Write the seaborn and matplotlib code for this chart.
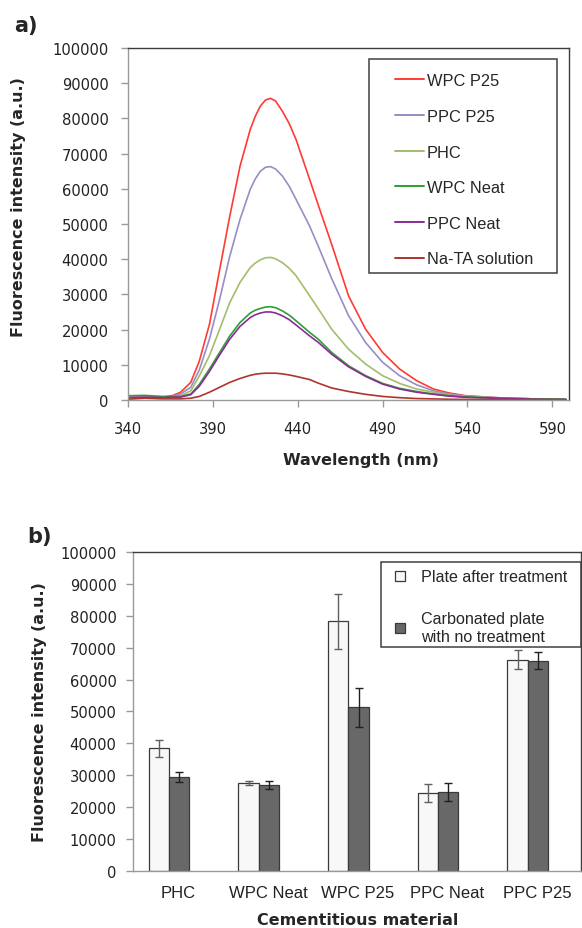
import numpy as np
import pandas as pd
import matplotlib
matplotlib.use("Agg")
import matplotlib.pyplot as plt
import seaborn as sns
from matplotlib.lines import Line2D
from matplotlib.patches import Patch, Rectangle
from matplotlib.transforms import ScaledTranslation

# ---- panel a) emission spectra (read off the figure) ----
wavelength = [340, 350, 360, 366, 371, 377, 382, 388, 394, 400, 406, 412, 415, 418, 421, 424, 427, 431,
              435, 439, 447, 452, 460, 470, 480, 490, 500, 510, 520, 529, 539, 559, 579, 598]
wpc_p25 = [600, 700, 800, 1200, 2200, 5000, 11000, 21500, 37000, 52300, 66400, 76800, 80600, 83500, 85200,
           85700, 84900, 82000, 78500, 74000, 62700, 55500, 44200, 29500, 20100, 13500, 8800, 5500, 3100,
           2000, 1200, 600, 300, 100]
ppc_p25 = [600, 700, 800, 1000, 1700, 3600, 8500, 17300, 28600, 40900, 51300, 59800, 62800, 65000, 66100,
           66300, 65600, 63600, 60700, 57000, 49400, 43800, 34500, 23900, 16300, 10700, 6900, 4300, 2600,
           1700, 1100, 600, 300, 200]
phc = [600, 700, 800, 900, 1200, 2600, 6800, 12600, 20100, 27700, 33400, 37600, 38900, 39800, 40400,
       40500, 40100, 39000, 37400, 35300, 29600, 26000, 20100, 14400, 10200, 6900, 4700, 3100, 2200,
       1400, 1000, 500, 300, 100]
wpc_neat = [1200, 1300, 1000, 1000, 1000, 1700, 4400, 8800, 13500, 18200, 22000, 24700, 25500, 26000, 26400,
            26500, 26200, 25300, 24100, 22500, 19200, 17300, 13500, 9700, 6900, 4700, 3300, 2400, 1700,
            1200, 850, 500, 300, 200]
ppc_neat = [700, 800, 700, 800, 800, 1500, 3900, 8100, 12800, 17300, 20900, 23400, 24200, 24700, 25000,
            25000, 24700, 23900, 22800, 21300, 18200, 16400, 13000, 9400, 6700, 4500, 3100, 2200, 1600,
            1100, 750, 450, 200, 100]
na_ta = [200, 500, 300, 300, 300, 500, 1000, 2200, 3600, 5000, 6100, 7000, 7300, 7500, 7600,
         7600, 7600, 7400, 7100, 6700, 5800, 4800, 3400, 2400, 1600, 1000, 650, 400, 300,
         200, 150, 100, 100, 50]

series_names = ["WPC P25", "PPC P25", "PHC", "WPC Neat", "PPC Neat", "Na-TA solution"]
series_values = [wpc_p25, ppc_p25, phc, wpc_neat, ppc_neat, na_ta]
series_colors = ["#fe3b33", "#9a8cc4", "#a2bd6c", "#2f9e32", "#8a2c98", "#b0342e"]

# ---- panel b) bar chart ----
materials = ["PHC", "WPC Neat", "WPC P25", "PPC Neat", "PPC P25"]
conditions = ["Plate after treatment", "Carbonated plate\nwith no treatment"]
after_treatment = [38400, 27600, 78300, 24400, 66300]
after_err = [2700, 650, 8750, 2950, 2950]
carbonated = [29400, 26900, 51300, 24700, 66000]
carbonated_err = [1700, 1150, 6150, 2700, 2700]

sns.set_style("white")
plt.rcParams["font.family"] = ["DejaVu Sans"]

fig = plt.figure(figsize=(5.82, 9.29), dpi=100)
ax1 = fig.add_axes([0.2199, 0.5684, 0.7583, 0.3789])
ax2 = fig.add_axes([0.229, 0.0617, 0.7701, 0.3427])

# --- top panel ---
spec = pd.concat([pd.DataFrame({"Wavelength": wavelength, "Intensity": v, "Sample": n})
                  for n, v in zip(series_names, series_values)], ignore_index=True)
sns.lineplot(data=spec, x="Wavelength", y="Intensity", hue="Sample", hue_order=series_names,
             palette=series_colors, estimator=None, sort=False, linewidth=1.2, legend=False, ax=ax1)

ax1.set_xlim(340, 600)
ax1.set_ylim(0, 100000)
ax1.set_xticks(np.arange(340, 600, 50))
ax1.set_yticks(np.arange(0, 100001, 10000))
ax1.set_xlabel("Wavelength (nm)", fontsize=11.5, fontweight="bold", va="center")
ax1.set_ylabel("Fluorescence intensity (a.u.)", fontsize=11.5, fontweight="bold", va="center")
ax1.xaxis.set_label_coords(0.527, -0.168)
ax1.yaxis.set_label_coords(-0.247, 0.55)

# --- bottom panel ---
bars = pd.DataFrame({
    "Material": materials * 2,
    "Condition": [conditions[0]] * 5 + [conditions[1]] * 5,
    "Value": after_treatment + carbonated,
})
sns.barplot(data=bars, x="Material", y="Value", hue="Condition", hue_order=conditions,
            palette=["#f8f8f8", "#686868"], width=0.454, gap=0, errorbar=None,
            edgecolor="#3a3a3a", linewidth=0.9, ax=ax2)
if ax2.get_legend() is not None:
    ax2.get_legend().remove()

err_sets = [(after_treatment, after_err, "#606060"), (carbonated, carbonated_err, "#202020")]
for cont, (vals, errs, ecol) in zip(ax2.containers, err_sets):
    xs = [b.get_x() + b.get_width() / 2 for b in cont]
    ax2.errorbar(xs, vals, yerr=errs, fmt="none", ecolor=ecol, elinewidth=1.0,
                 capsize=2.6, capthick=1.0)

ax2.set_xlim(-0.4, 4.6)
ax2.set_ylim(0, 100000)
ax2.set_yticks(np.arange(0, 100001, 10000))
ax2.set_xlabel("Cementitious material", fontsize=11.5, fontweight="bold", va="center")
ax2.set_ylabel("Fluorescence intensity (a.u.)", fontsize=11.5, fontweight="bold", va="center")
ax2.xaxis.set_label_coords(0.501, -0.152)
ax2.yaxis.set_label_coords(-0.21, 0.5)

# --- styling shared ---
for ax in (ax1, ax2):
    for side in ("left", "bottom"):
        ax.spines[side].set_color("#9a9a9a")
        ax.spines[side].set_linewidth(1.0)
    for side in ("top", "right"):
        ax.spines[side].set_color("#3c3c3c")
        ax.spines[side].set_linewidth(1.0)
    ax.tick_params(axis="y", direction="out", length=5, width=1, color="#9a9a9a",
                   labelsize=10.6, labelcolor="#222222", left=True)
    ax.set_yticklabels([f"{int(t)}" for t in ax.get_yticks()])

ax1.tick_params(axis="y", pad=9)
ax1.tick_params(axis="x", direction="out", length=5, width=1, color="#9a9a9a",
                labelsize=10.6, labelcolor="#222222", bottom=True, pad=10)
ax2.tick_params(axis="y", pad=7)
ax2.tick_params(axis="x", length=0, pad=10.5)
for lab in ax2.get_xticklabels():
    lab.set_fontfamily("Liberation Sans")
    lab.set_fontsize(12)
    lab.set_color("#222222")
    lab.set_transform(lab.get_transform() + ScaledTranslation(0.095, 0, fig.dpi_scale_trans))

# --- legends with hand-placed frames ---
fig.patches.append(Rectangle((0.6347, 0.7051), 0.3223, 0.2304, transform=fig.transFigure,
                             fill=False, edgecolor="#404040", linewidth=1.1))
line_handles = [Line2D([], [], color=c, linewidth=1.4) for c in series_colors]
fig.legend(line_handles, series_names, loc="upper left", bbox_to_anchor=(0.6784, 0.9201),
           bbox_transform=fig.transFigure, frameon=False, borderpad=0, borderaxespad=0,
           handlelength=1.76, handletextpad=0.2, labelspacing=1.26,
           prop={"family": "Liberation Sans", "size": 11.8})

fig.patches.append(Rectangle((0.6546, 0.3028), 0.3436, 0.0915, transform=fig.transFigure,
                             fill=False, edgecolor="#404040", linewidth=1.1))
bar_handles = [Patch(facecolor="#f8f8f8", edgecolor="#3a3a3a", linewidth=0.9),
               Patch(facecolor="#686868", edgecolor="#3a3a3a", linewidth=0.9)]
fig.legend(bar_handles, conditions, loc="upper left", bbox_to_anchor=(0.6787, 0.386),
           bbox_transform=fig.transFigure, frameon=False, borderpad=0, borderaxespad=0,
           handlelength=0.62, handleheight=0.62, handletextpad=1.0, labelspacing=1.68,
           prop={"family": "Liberation Sans", "size": 11.6})

fig.text(14 / 582, 1 - 26 / 929, "a)", fontsize=15, fontweight="bold", va="center")
fig.text(27 / 582, 1 - 537.5 / 929, "b)", fontsize=15, fontweight="bold", va="center")

fig.savefig("out.png", dpi=100)
